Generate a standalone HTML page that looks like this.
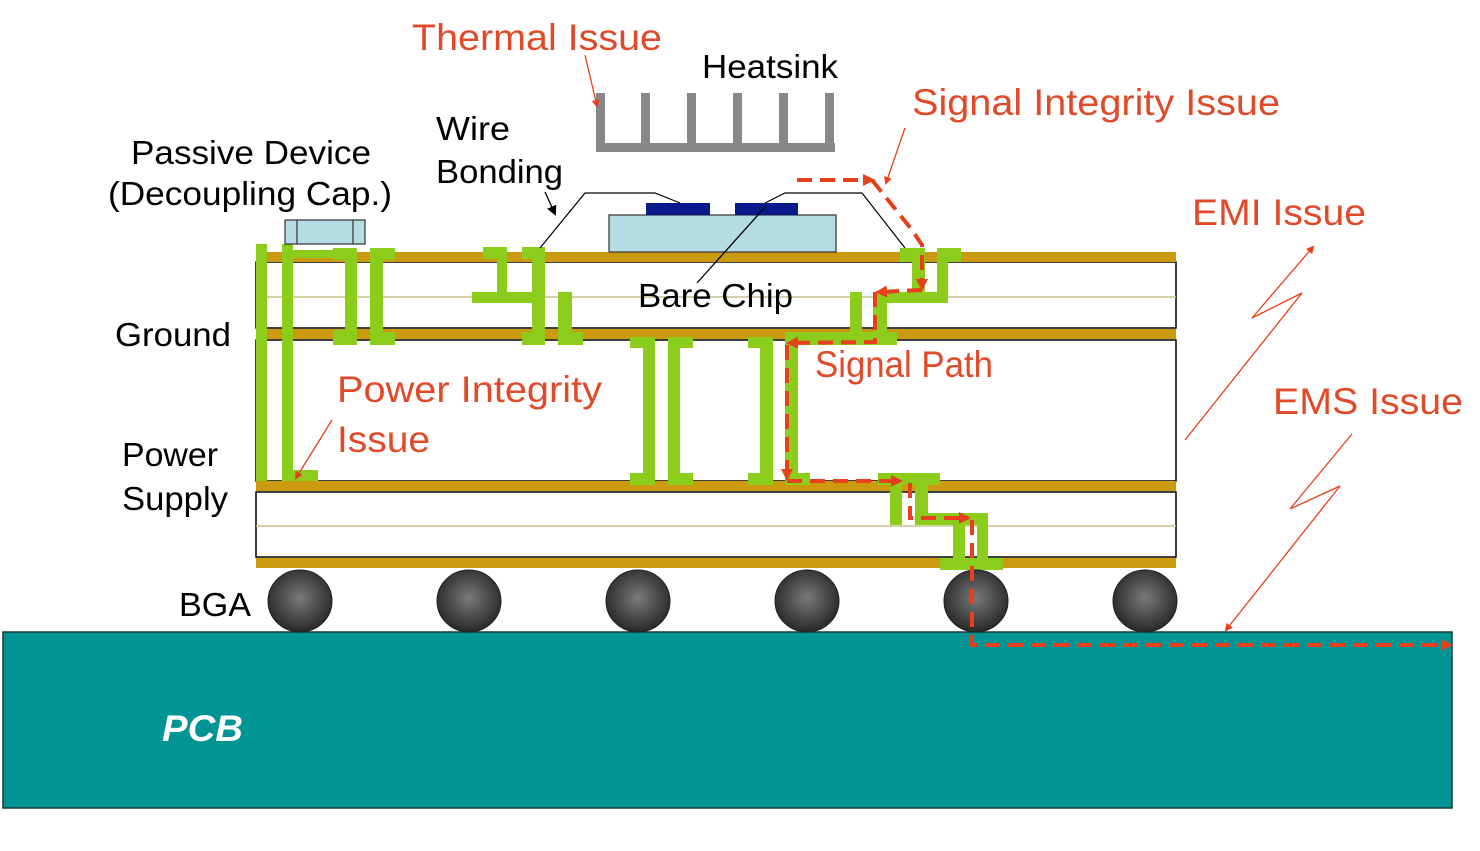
<!DOCTYPE html>
<html><head><meta charset="utf-8"><style>
html,body{margin:0;padding:0;background:#fff;}
svg{display:block;}
text{font-family:"Liberation Sans",sans-serif;}
</style></head><body>
<svg width="1480" height="851" viewBox="0 0 1480 851" xmlns="http://www.w3.org/2000/svg">
<defs>
<radialGradient id="ball" cx="0.5" cy="0.45" r="0.6">
<stop offset="0" stop-color="#7a7a7a"/><stop offset="0.6" stop-color="#444"/><stop offset="1" stop-color="#222"/>
</radialGradient>
<marker id="ar" markerWidth="8" markerHeight="8" refX="6" refY="4" orient="auto" markerUnits="userSpaceOnUse"><path d="M0,0 L8,4 L0,8 z" fill="#e8401c"/></marker>
<marker id="ar2" markerWidth="12" markerHeight="12" refX="9" refY="6" orient="auto" markerUnits="userSpaceOnUse"><path d="M0,0 L12,6 L0,12 z" fill="#e8401c"/></marker>
<marker id="ark" markerWidth="10" markerHeight="10" refX="8" refY="5" orient="auto" markerUnits="userSpaceOnUse"><path d="M0,0 L10,5 L0,10 z" fill="#000"/></marker>
</defs>

<rect x="3" y="632" width="1449" height="176" fill="#009494" stroke="#1a3a3a" stroke-width="1.5"/>
<text x="162" y="741" fill="#fff" font-size="37" font-weight="bold" font-style="italic" textLength="81" lengthAdjust="spacingAndGlyphs">PCB</text>

<rect x="256" y="262" width="920" height="66" fill="#fff" stroke="#000" stroke-width="1.5"/>
<rect x="256" y="340" width="920" height="141" fill="#fff" stroke="#000" stroke-width="1.5"/>
<rect x="256" y="492" width="920" height="65" fill="#fff" stroke="#000" stroke-width="1.5"/>
<line x1="256" y1="297" x2="1176" y2="297" stroke="#c8c088" stroke-width="1.5"/>
<line x1="256" y1="526" x2="1176" y2="526" stroke="#c8c088" stroke-width="1.5"/>
<g fill="#cc9a0e">
<rect x="256" y="252" width="920" height="10"/>
<rect x="256" y="329" width="920" height="10"/>
<rect x="256" y="481" width="920" height="10"/>
<rect x="256" y="558" width="920" height="10"/>
</g>

<g fill="#8ccc1a">
<rect x="256" y="244" width="11" height="237"/>
<rect x="282" y="244" width="11" height="237"/>
<rect x="282" y="470" width="36" height="11"/>
<rect x="293" y="250" width="40" height="8"/>
<rect x="333" y="248" width="24" height="12"/>
<rect x="345" y="248" width="12" height="97"/>
<rect x="333" y="330" width="24" height="15"/>
<rect x="370" y="248" width="13" height="97"/>
<rect x="370" y="248" width="25" height="12"/>
<rect x="370" y="332" width="25" height="13"/>
<rect x="483" y="247" width="24" height="12"/>
<rect x="497" y="247" width="10" height="55"/>
<rect x="472" y="292" width="73" height="11"/>
<rect x="522" y="247" width="23" height="12"/>
<rect x="532" y="247" width="13" height="98"/>
<rect x="522" y="332" width="23" height="13"/>
<rect x="558" y="292" width="14" height="53"/>
<rect x="558" y="332" width="25" height="13"/>
<rect x="630" y="337" width="25" height="11"/>
<rect x="643" y="337" width="12" height="148"/>
<rect x="630" y="473" width="25" height="12"/>
<rect x="668" y="337" width="25" height="11"/>
<rect x="668" y="337" width="12" height="148"/>
<rect x="668" y="473" width="25" height="12"/>
<rect x="748" y="337" width="25" height="11"/>
<rect x="760" y="337" width="13" height="148"/>
<rect x="748" y="473" width="25" height="12"/>
<rect x="785" y="332" width="112" height="13"/>
<rect x="785" y="332" width="13" height="153"/>
<rect x="785" y="473" width="25" height="12"/>
<rect x="850" y="292" width="12" height="53"/>
<rect x="873" y="292" width="14" height="53"/>
<rect x="873" y="292" width="75" height="11"/>
<rect x="912" y="248" width="13" height="55"/>
<rect x="900" y="248" width="25" height="14"/>
<rect x="937" y="248" width="11" height="55"/>
<rect x="937" y="248" width="24" height="14"/>
<rect x="878" y="473" width="62" height="12"/>
<rect x="890" y="473" width="12" height="52"/>
<rect x="915" y="473" width="13" height="52"/>
<rect x="915" y="513" width="73" height="12"/>
<rect x="953" y="513" width="12" height="55"/>
<rect x="977" y="513" width="11" height="55"/>
<rect x="940" y="558" width="63" height="12"/>
</g>

<rect x="285" y="220" width="80" height="24" fill="#b4dce4" stroke="#333" stroke-width="1.2"/>
<line x1="297" y1="220" x2="297" y2="244" stroke="#333" stroke-width="1.2"/>
<line x1="353" y1="220" x2="353" y2="244" stroke="#333" stroke-width="1.2"/>

<rect x="609" y="215" width="227" height="37" fill="#b4dce4" stroke="#333" stroke-width="1.2"/>
<rect x="646" y="203" width="64" height="12" fill="#0a1a8c"/>
<rect x="735" y="203" width="63" height="12" fill="#0a1a8c"/>
<polyline points="540,248 585,193 655,193 680,203" fill="none" stroke="#000" stroke-width="1.2"/>
<polyline points="765,203 785,193 862,193 905,248" fill="none" stroke="#000" stroke-width="1.2"/>

<g fill="#888">
<rect x="596" y="143" width="239" height="9"/>
<rect x="596" y="93" width="9" height="55"/>
<rect x="641" y="93" width="9" height="55"/>
<rect x="687" y="93" width="9" height="55"/>
<rect x="733" y="93" width="9" height="55"/>
<rect x="779" y="93" width="9" height="55"/>
<rect x="825" y="93" width="9" height="55"/>
</g>

<g fill="url(#ball)" stroke="#222" stroke-width="1">
<ellipse cx="300" cy="601" rx="32" ry="31"/>
<ellipse cx="469" cy="601" rx="32" ry="31"/>
<ellipse cx="638" cy="601" rx="32" ry="31"/>
<ellipse cx="807" cy="601" rx="32" ry="31"/>
<ellipse cx="976" cy="601" rx="32" ry="31"/>
<ellipse cx="1145" cy="601" rx="32" ry="31"/>
</g>

<g fill="none" stroke="#e8401c" stroke-width="4" stroke-dasharray="15,8">
<path d="M797,180 L872,180" marker-end="url(#ar2)"/>
<path d="M872,180 L912,230 L922,245 L922,288" marker-end="url(#ar2)"/>
<path d="M922,290 L878,292" marker-end="url(#ar2)"/>
<path d="M875,292 L875,342 L789,343" marker-end="url(#ar2)"/>
<path d="M787,345 L787,478" marker-end="url(#ar2)"/>
<path d="M787,481 L900,481" marker-end="url(#ar2)"/>
<path d="M910,483 L910,518 L968,518" marker-end="url(#ar2)"/>
<path d="M972,520 L972,645 L1450,645" marker-end="url(#ar2)"/>
</g>

<g stroke="#e8401c" stroke-width="1.3" fill="none">
<line x1="585" y1="55" x2="597" y2="106" marker-end="url(#ar)"/>
<line x1="905" y1="128" x2="886" y2="183" marker-end="url(#ar)"/>
<line x1="332" y1="420" x2="296" y2="478" marker-end="url(#ar)"/>
<polyline points="1185,440 1302,293 1252,318 1313,247" marker-end="url(#ar)"/>
<polyline points="1352,434 1290,509 1340,486 1226,630" marker-end="url(#ar)"/>
</g>
<line x1="545" y1="192" x2="555" y2="214" stroke="#000" stroke-width="1.3" marker-end="url(#ark)"/>
<line x1="697" y1="283" x2="766" y2="206" stroke="#000" stroke-width="1.3"/>

<g font-size="37" fill="#e04a28" lengthAdjust="spacingAndGlyphs">
<text x="412" y="50" textLength="250" lengthAdjust="spacingAndGlyphs">Thermal Issue</text>
<text x="912" y="115" textLength="368" lengthAdjust="spacingAndGlyphs">Signal Integrity Issue</text>
<text x="1192" y="225" textLength="174" lengthAdjust="spacingAndGlyphs">EMI Issue</text>
<text x="815" y="377" textLength="178" lengthAdjust="spacingAndGlyphs">Signal Path</text>
<text x="337" y="402" textLength="265" lengthAdjust="spacingAndGlyphs">Power Integrity</text>
<text x="337" y="452" textLength="93" lengthAdjust="spacingAndGlyphs">Issue</text>
<text x="1273" y="414" textLength="190" lengthAdjust="spacingAndGlyphs">EMS Issue</text>
</g>
<g font-size="33" fill="#000">
<text x="702" y="78" textLength="136" lengthAdjust="spacingAndGlyphs">Heatsink</text>
<text x="436" y="140" textLength="74" lengthAdjust="spacingAndGlyphs">Wire</text>
<text x="436" y="183" textLength="127" lengthAdjust="spacingAndGlyphs">Bonding</text>
<text x="131" y="164" textLength="240" lengthAdjust="spacingAndGlyphs">Passive Device</text>
<text x="108" y="205" textLength="284" lengthAdjust="spacingAndGlyphs">(Decoupling Cap.)</text>
<text x="115" y="346" textLength="116" lengthAdjust="spacingAndGlyphs">Ground</text>
<text x="638" y="307" textLength="155" lengthAdjust="spacingAndGlyphs">Bare Chip</text>
<text x="122" y="466" textLength="96" lengthAdjust="spacingAndGlyphs">Power</text>
<text x="122" y="510" textLength="106" lengthAdjust="spacingAndGlyphs">Supply</text>
<text x="179" y="616" textLength="72" lengthAdjust="spacingAndGlyphs">BGA</text>
</g>
</svg>
</body></html>
